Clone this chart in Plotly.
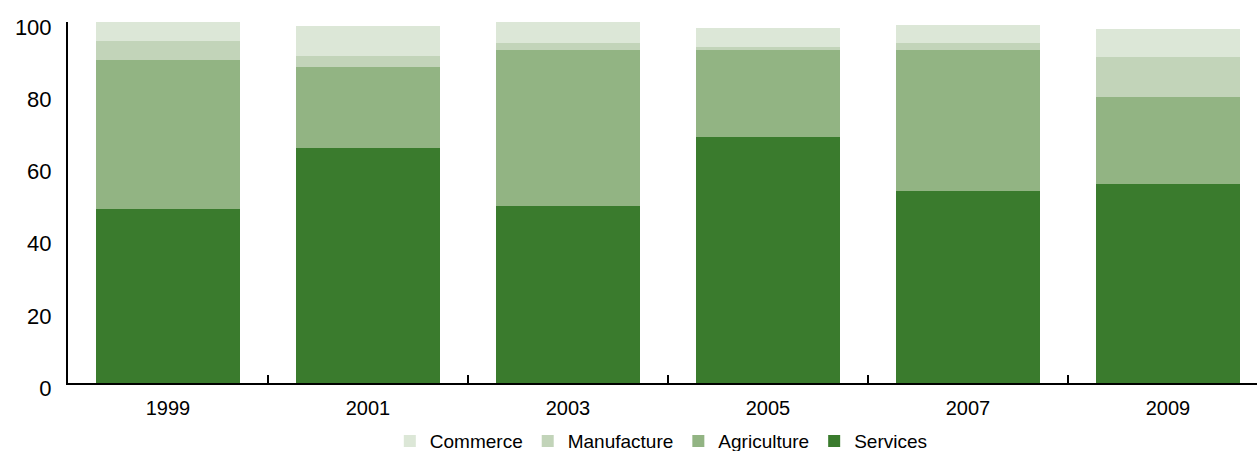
import plotly.graph_objects as go

years = ["1999", "2001", "2003", "2005", "2007", "2009"]
services = [48.2, 65.1, 49.0, 68.1, 53.2, 55.1]
agriculture = [41.3, 22.4, 43.2, 24.1, 39.0, 24.1]
manufacture = [5.2, 3.1, 2.0, 0.9, 2.0, 11.1]
commerce = [5.3, 8.3, 6.1, 5.2, 5.0, 7.8]

series = [
    ("Services", services, "rgb(58,123,45)"),
    ("Agriculture", agriculture, "rgb(146,180,131)"),
    ("Manufacture", manufacture, "rgb(194,212,185)"),
    ("Commerce", commerce, "rgb(220,231,215)"),
]

xpos = list(range(len(years)))

fig = go.Figure()
for name, vals, color in series:
    fig.add_trace(go.Bar(
        x=xpos, y=vals, name=name, width=0.72,
        marker=dict(color=color, line=dict(width=0)),
    ))

font = "Liberation Sans, Arial, Helvetica, sans-serif"

fig.update_layout(
    barmode="stack",
    width=1257, height=451,
    margin=dict(l=68, r=0, t=22, b=68, autoexpand=False),
    paper_bgcolor="white", plot_bgcolor="white",
    font=dict(family=font, color="black"),
    showlegend=True,
    legend=dict(
        orientation="h", traceorder="reversed",
        x=0.499, xanchor="center",
        yref="container", y=0.022, yanchor="middle",
        font=dict(size=19, family=font, color="black"),
        itemwidth=30,
    ),
    xaxis=dict(
        range=[-0.5, 5.445],
        tickvals=xpos, ticktext=years, ticks="",
        ticklabelstandoff=6,
        tickfont=dict(size=20, family=font, color="black"),
        showline=True, linecolor="black", linewidth=2,
        showgrid=False, zeroline=False,
        minor=dict(tickvals=[0.5, 1.5, 2.5, 3.5, 4.5], ticks="inside",
                   ticklen=8, tickwidth=2, tickcolor="black", showgrid=False),
    ),
    yaxis=dict(
        range=[0, 100], tickvals=[0, 20, 40, 60, 80, 100],
        ticks="", ticklabelstandoff=10, ticklabelshift=5,
        tickfont=dict(size=22, family=font, color="black"),
        showline=True, linecolor="black", linewidth=2,
        showgrid=False, zeroline=False,
    ),
)

fig.write_html("out.html")
